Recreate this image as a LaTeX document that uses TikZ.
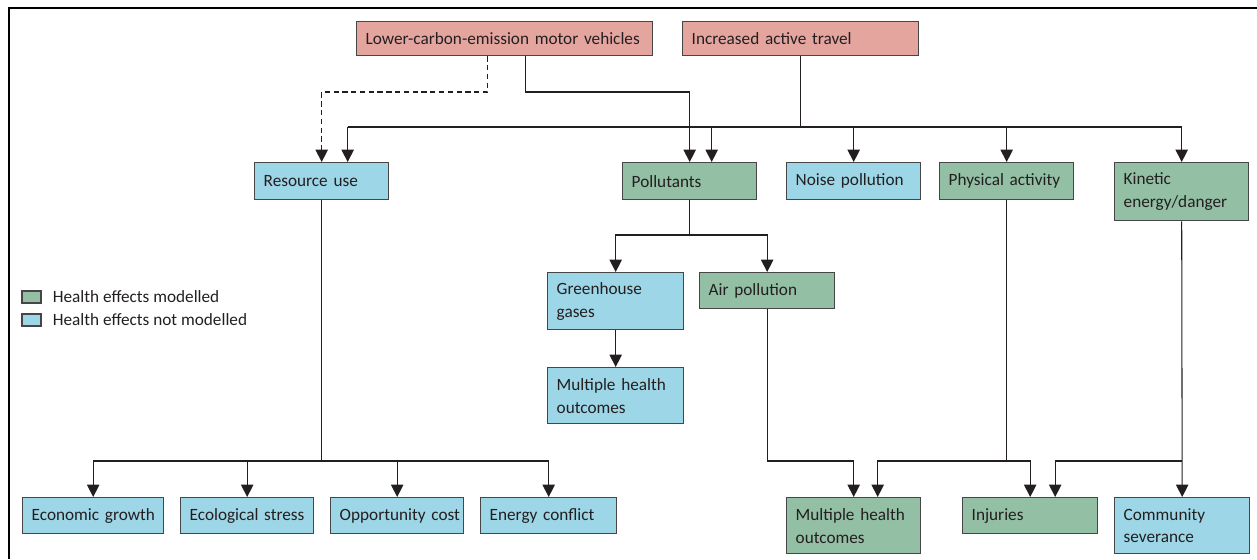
\documentclass[tikz,border=0pt]{standalone}
\usepackage{fontspec}
\setmainfont{Carlito}
\usetikzlibrary{positioning}
\usetikzlibrary{arrows.meta}
\definecolor{cpink}{RGB}{228,165,159}
\definecolor{cgreen}{RGB}{147,191,164}
\definecolor{cblue}{RGB}{157,214,230}
\definecolor{cedge}{RGB}{70,70,70}
\definecolor{cink}{RGB}{35,31,32}
\hyphenpenalty=10000
\exhyphenpenalty=10000

\begin{document}
\begin{tikzpicture}
  [x=0.02cm, y=-0.02cm,
   every node/.style={font=\fontsize{9.8}{13}\selectfont, text=cink},
   box/.style={draw=cedge, line width=0.8pt, anchor=north west, inner xsep=0.18cm, inner ysep=0pt, align=left},
   modelled/.style={box, fill=cgreen},
   notmodelled/.style={box, fill=cblue},
   policy/.style={box, fill=cpink},
   legkey/.style={draw=cedge, line width=0.6pt, minimum width=0.38cm, minimum height=0.24cm, inner sep=0pt},
   wire/.style={line width=0.6pt, draw=cink},
   link/.style={wire, -{Triangle[length=7pt, width=7pt]}}]
  \useasboundingbox (0,0) rectangle (1257,559);
  \draw[line width=1.4pt] (9,559) -- (9,8) -- (1257,8);

  % interventions
  \node (lcv) [policy, text width=5.56cm, minimum height=0.68cm] at (356,21) {\mbox{Lower-carbon-emission motor vehicles}};
  \node (iat) [policy, text width=4.36cm, minimum height=0.68cm] at (682,21) {Increased active travel};

  % pathways
  \node (res) [notmodelled, text width=2.32cm, minimum height=0.74cm] at (254,162) {Resource use};
  \node (pol) [modelled, text width=2.32cm, minimum height=0.74cm] at (622,162) {Pollutants};
  \node (noise) [notmodelled, text width=2.32cm, minimum height=0.74cm] at (786,162) {Noise pollution};
  \node (phys) [modelled, text width=2.32cm, minimum height=0.74cm] at (939,162) {\mbox{Physical activity}};
  \node (kin) [modelled, text width=2.32cm, minimum height=1.16cm] at (1114,162) {Kinetic\\energy/danger};

  \node (ghg) [notmodelled, text width=2.36cm, minimum height=1.14cm] at (547,272) {Greenhouse\\gases};
  \node (air) [modelled, text width=2.34cm, minimum height=0.72cm] at (699,272) {Air pollution};
  \node (mhoa) [notmodelled, text width=2.36cm, minimum height=1.12cm] at (547,367) {Multiple health\\outcomes};

  % outcomes
  \node (econ) [notmodelled, text width=2.46cm, minimum height=0.72cm] at (22,497) {\mbox{Economic growth}};
  \node (eco) [notmodelled, text width=2.30cm, minimum height=0.72cm] at (180,497) {\mbox{Ecological stress}};
  \node (opp) [notmodelled, text width=2.30cm, minimum height=0.72cm] at (330,497) {\mbox{Opportunity cost}};
  \node (enc) [notmodelled, text width=2.36cm, minimum height=0.72cm] at (480,497) {\mbox{Energy conflict}};
  \node (mhob) [modelled, text width=2.32cm, minimum height=1.12cm] at (786,497) {Multiple health\\outcomes};
  \node (inj) [modelled, text width=2.34cm, minimum height=0.72cm] at (962,497) {Injuries};
  \node (comm) [notmodelled, text width=2.34cm, minimum height=1.12cm] at (1114,497) {Community\\severance};

  % legend
  \node (keymod) [legkey, fill=cgreen] at (31.5,297) {};
  \node (keymodtext) [right=0.22cm of keymod, inner sep=0pt] {Health effects modelled};
  \node (keynot) [legkey, fill=cblue] at (31.5,320) {};
  \node (keynottext) [right=0.22cm of keynot, inner sep=0pt] {Health effects not modelled};

  % rails and entry points
  \coordinate (railA) at (0,92);
  \coordinate (railB) at (0,127);
  \coordinate (railC) at (0,235);
  \coordinate (railD) at (0,461);
  \coordinate (lcvdash) at ([xshift=-0.34cm]lcv.south);
  \coordinate (lcvline) at ([xshift=0.42cm]lcv.south);
  \coordinate (resin) at ([xshift=0.52cm]res.north);
  \coordinate (polin) at ([xshift=0.44cm]pol.north);
  \coordinate (mhoin) at ([xshift=0.48cm]mhob.north);
  \coordinate (injin) at ([xshift=0.5cm]inj.north);

  \draw[link, dash pattern=on 3pt off 2pt] (lcvdash) |- (res.north |- railA) -- (res.north);
  \draw[link] (lcvline) |- (pol.north |- railA) -- (pol.north);
  \draw[wire] (iat.south) -- (iat.south |- railB);
  \draw[wire] (resin |- railB) -- (kin.north |- railB);
  \draw[link] (resin |- railB) -- (resin);
  \draw[link] (polin |- railB) -- (polin);
  \foreach \n in {noise, phys, kin}
    \draw[link] (\n.north |- railB) -- (\n.north);

  \draw[link] (pol.south) -- (pol.south |- railC) -| (ghg.north);
  \draw[link] (pol.south |- railC) -| (air.north);
  \draw[link] (ghg.south) -- (mhoa.north);

  \draw[link] (air.south) -- (air.south |- railD) -| (mhob.north);
  \draw[link] (phys.south) -- (phys.south |- railD) -| (mhoin);
  \draw[link] (phys.south |- railD) -| (inj.north);
  \draw[link] (kin.south) -- (comm.north);
  \draw[link] (kin.south |- railD) -| (injin);

  \draw[wire] (res.south) -- (res.south |- railD);
  \foreach \n in {econ, eco, opp, enc}
    \draw[link] (res.south |- railD) -| (\n.north);
\end{tikzpicture}
\end{document}
